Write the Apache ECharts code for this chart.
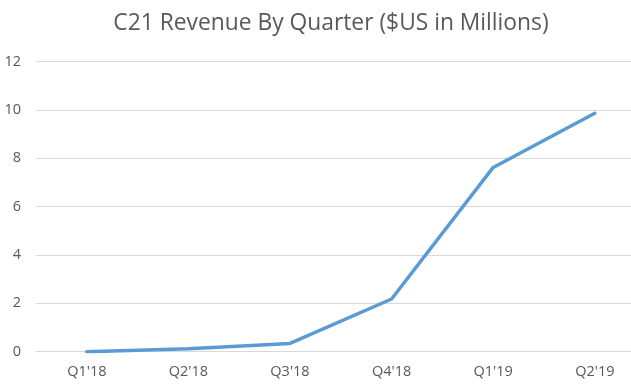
<!DOCTYPE html>
<html>
<head>
<meta charset="utf-8">
<script src="https://cdn.jsdelivr.net/npm/echarts@6/dist/echarts.min.js"></script>
<style>html,body{margin:0;padding:0;background:#fff;}#c{width:631px;height:385px;}</style>
</head>
<body>
<div id="c"></div>
<script>
var categories = ["Q1'18", "Q2'18", "Q3'18", "Q4'18", "Q1'19", "Q2'19"];
var revenue = [0, 0.12, 0.34, 2.18, 7.62, 9.86];
var yTicks = [0, 2, 4, 6, 8, 10, 12];

var chart = echarts.init(document.getElementById('c'), null, {renderer: 'canvas'});
chart.setOption({
  animation: false,
  backgroundColor: '#fff',
  title: {
    text: 'C21 Revenue By Quarter ($US in Millions)',
    left: 326, top: 7, textAlign: 'center',
    textStyle: {fontFamily: 'Open Sans', fontSize: 22.8, fontWeight: 'normal', color: '#595959'}
  },
  grid: {left: 36, top: 61.5, width: 609.6, height: 290.2, containLabel: false, outerBoundsMode: 'none'},
  xAxis: {
    type: 'category', data: categories, boundaryGap: true,
    axisLine: {show: true, lineStyle: {color: '#D9D9D9', width: 1}},
    axisTick: {show: false},
    axisLabel: {color: '#595959', fontFamily: 'Open Sans', fontSize: 14.5, margin: 13}
  },
  yAxis: {
    type: 'value', min: yTicks[0], max: yTicks[yTicks.length - 1], interval: 2,
    axisLine: {show: false}, axisTick: {show: false},
    splitLine: {lineStyle: {color: '#D9D9D9', width: 1}},
    axisLabel: {color: '#595959', fontFamily: 'Open Sans', fontSize: 14.5, margin: 15}
  },
  series: [{
    type: 'line', data: revenue, symbol: 'none', smooth: false,
    lineStyle: {color: '#5B9BD5', width: 3.5, cap: 'round', join: 'round'}
  }]
});
</script>
</body>
</html>
